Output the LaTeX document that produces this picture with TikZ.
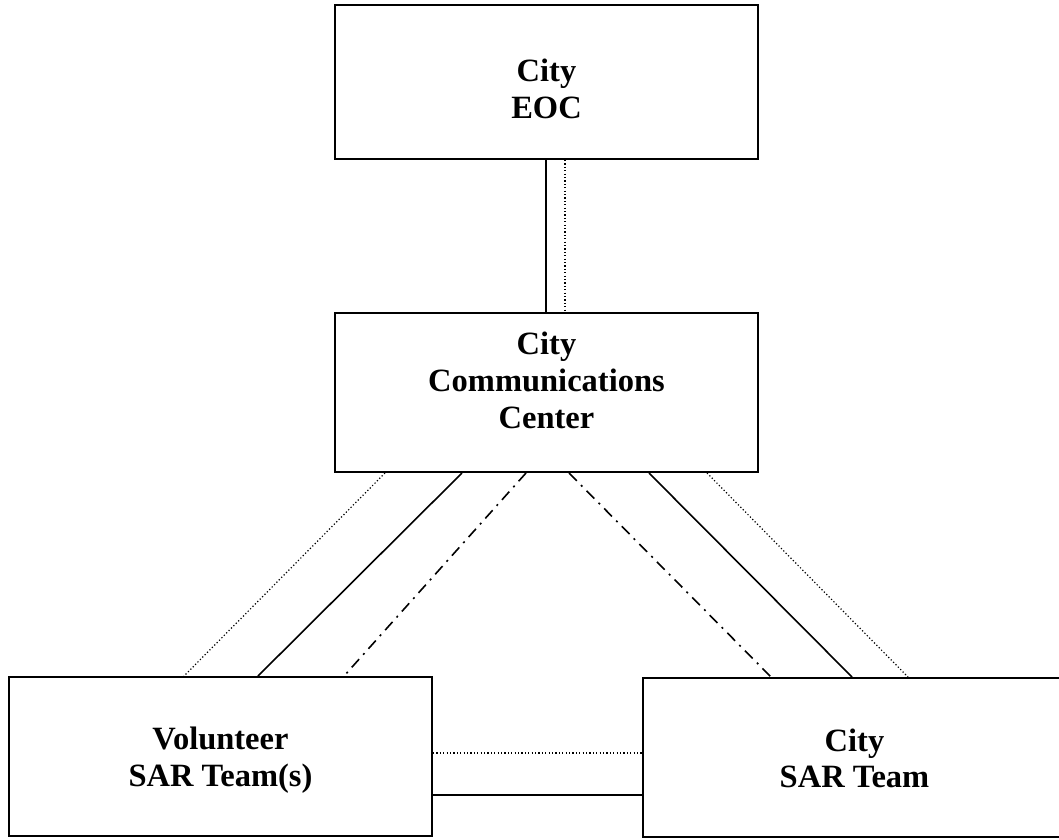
\documentclass[tikz,border=0pt]{standalone}
\usepackage{fontspec}
\setmainfont{Liberation Serif}
\usetikzlibrary{calc}
\tikzset{
  box/.style={draw, line width=2pt, rectangle, minimum width=423pt, minimum height=159pt, inner sep=0pt},
  boxtext/.style={align=center, inner sep=0pt, font=\fontsize{32.5}{36.7}\selectfont\bfseries},
  solidline/.style={line width=1.6pt},
  dotline/.style={line width=1.2pt, dash pattern=on 1.2pt off 2.2pt},
  dashdotline/.style={line width=1.6pt, dash pattern=on 11pt off 6pt on 2pt off 6pt}
}
\begin{document}
\begin{tikzpicture}[x=1pt,y=-1pt]
\clip (0,0) rectangle (1059,839);
\fill[white] (0,0) rectangle (1059,839);
\node[box, minimum height=154pt, label={[boxtext, yshift=-7pt]center:{City\\EOC}}] (eoc) at (546.5,82) {};
\node[box, label={[boxtext, yshift=12pt]center:{City\\Communications\\Center}}] (ccc) at (546.5,392.5) {};
\node[box, label={[boxtext, yshift=-4pt]center:{Volunteer\\SAR Team(s)}}] (vol) at (220.5,756.5) {};
\node[box, label={[boxtext, yshift=-1pt]center:{City\\SAR Team}}] (sar) at (854.5,757.5) {};
% EOC - CCC
\draw[solidline] ([xshift=212pt]eoc.south west) -- ([xshift=212pt]ccc.north west);
\draw[dotline] ([xshift=231pt]eoc.south west) -- ([xshift=231pt]ccc.north west);
% CCC - Volunteer
\draw[dotline] ([xshift=51pt]ccc.south west) -- ([xshift=176pt]vol.north west);
\draw[solidline] ([xshift=128pt]ccc.south west) -- ([xshift=250pt]vol.north west);
\draw[dashdotline] ([xshift=192pt]ccc.south west) -- ([xshift=336pt]vol.north west);
% CCC - City SAR
\draw[dashdotline] ([xshift=235pt]ccc.south west) -- ([xshift=129pt]sar.north west);
\draw[solidline] ([xshift=315pt]ccc.south west) -- ([xshift=210pt]sar.north west);
\draw[dotline] ([xshift=373pt]ccc.south west) -- ([xshift=266pt]sar.north west);
% Volunteer - City SAR
\draw[dotline] ([yshift=-77pt]vol.north east) -- ([yshift=-76pt]sar.north west);
\draw[solidline] ([yshift=-119pt]vol.north east) -- ([yshift=-118pt]sar.north west);
\end{tikzpicture}
\end{document}
